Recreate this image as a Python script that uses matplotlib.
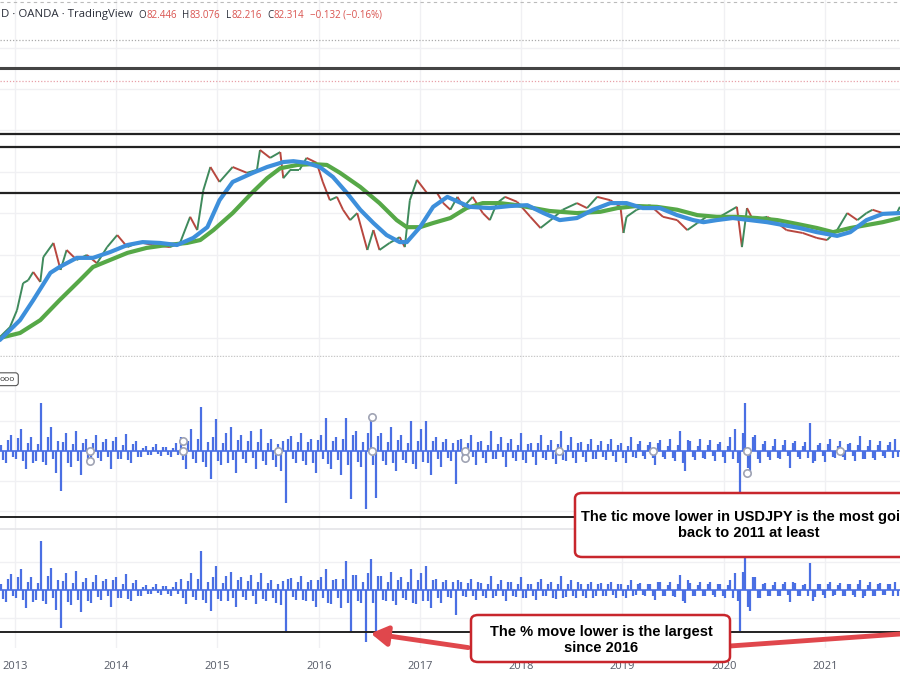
import numpy as np
import matplotlib
matplotlib.use("Agg")
import matplotlib.pyplot as plt
from matplotlib.collections import LineCollection
from matplotlib.patches import FancyBboxPatch, FancyArrowPatch
from matplotlib.lines import Line2D

# ---- USDJPY daily closes (year, price) ----
close_t = [2012.85, 2012.95, 2013.02, 2013.08, 2013.13, 2013.18, 2013.25, 2013.28, 2013.38, 2013.45,
           2013.51, 2013.61, 2013.71, 2013.81, 2013.91, 2014.01, 2014.11, 2014.23, 2014.36, 2014.53,
           2014.63, 2014.73, 2014.80, 2014.86, 2014.93, 2015.02, 2015.15, 2015.29, 2015.39, 2015.42,
           2015.52, 2015.62, 2015.65, 2015.72, 2015.81, 2015.88, 2015.98, 2016.04, 2016.11, 2016.18,
           2016.24, 2016.31, 2016.38, 2016.48, 2016.54, 2016.60, 2016.70, 2016.80, 2016.85, 2016.90,
           2016.97, 2017.07, 2017.17, 2017.23, 2017.30, 2017.37, 2017.43, 2017.52, 2017.62, 2017.69,
           2017.76, 2017.84, 2017.96, 2018.09, 2018.19, 2018.29, 2018.41, 2018.55, 2018.65, 2018.75,
           2018.88, 2018.98, 2019.01, 2019.04, 2019.14, 2019.27, 2019.40, 2019.54, 2019.64, 2019.74,
           2019.83, 2019.96, 2020.13, 2020.18, 2020.23, 2020.29, 2020.43, 2020.53, 2020.62, 2020.78,
           2020.92, 2021.02, 2021.12, 2021.22, 2021.32, 2021.41, 2021.47, 2021.57, 2021.71, 2021.74]
close_p = [80.2, 82.6, 86.7, 93.2, 93.9, 95.9, 93.5, 99.5, 102.9, 96.4,
           101.2, 98.8, 100.0, 98.0, 101.9, 104.8, 101.9, 103.1, 102.4, 101.9,
           102.9, 109.2, 106.0, 115.6, 121.2, 117.6, 121.2, 119.8, 120.5, 125.3,
           123.4, 124.8, 118.5, 120.5, 120.5, 123.4, 122.2, 117.6, 113.2, 114.0,
           110.9, 108.4, 110.1, 101.2, 106.0, 101.2, 102.9, 104.3, 101.9, 113.2,
           118.1, 114.9, 114.9, 112.5, 110.9, 114.0, 111.6, 114.0, 110.1, 108.4,
           112.5, 114.0, 112.8, 109.2, 106.5, 108.4, 110.9, 112.5, 111.3, 114.0,
           113.2, 111.6, 105.3, 109.2, 110.9, 112.0, 109.2, 108.4, 106.0, 107.7,
           109.2, 109.2, 111.6, 101.9, 111.3, 108.4, 109.2, 107.7, 106.0, 105.3,
           104.1, 103.6, 106.0, 110.1, 108.4, 110.1, 110.9, 110.1, 110.1, 111.6]

# ---- moving averages (blue = fast, green = slow) ----
ma_fast_t = [2012.85, 2013.05, 2013.18, 2013.35, 2013.44, 2013.61, 2013.77, 2013.94, 2014.11, 2014.26,
             2014.43, 2014.60, 2014.76, 2014.90, 2015.02, 2015.15, 2015.35, 2015.49, 2015.65, 2015.75,
             2015.88, 2016.01, 2016.14, 2016.28, 2016.41, 2016.54, 2016.67, 2016.80, 2016.87, 2017.00,
             2017.13, 2017.27, 2017.49, 2017.69, 2017.89, 2018.06, 2018.22, 2018.38, 2018.55, 2018.71,
             2018.88, 2019.04, 2019.20, 2019.37, 2019.54, 2019.70, 2019.80, 2019.93, 2020.09, 2020.26,
             2020.43, 2020.59, 2020.75, 2020.92, 2021.12, 2021.25, 2021.41, 2021.57, 2021.74]
ma_fast = [79.5, 84.3, 89.1, 95.7, 97.1, 99.3, 99.3, 100.7, 102.4, 103.1,
           102.9, 102.4, 104.1, 106.7, 113.2, 117.6, 119.8, 121.2, 122.4, 122.6,
           122.2, 121.2, 118.8, 114.9, 110.9, 107.7, 104.8, 103.1, 103.1, 106.7,
           111.6, 114.0, 111.6, 111.3, 111.8, 112.0, 110.1, 108.4, 108.9, 110.9,
           112.5, 112.5, 111.3, 111.3, 109.6, 108.4, 107.9, 108.4, 108.9, 108.4,
           107.9, 107.2, 106.5, 105.5, 104.6, 105.5, 108.4, 109.9, 110.1]
ma_slow_t = [2012.85, 2013.05, 2013.25, 2013.44, 2013.64, 2013.77, 2013.94, 2014.11, 2014.30, 2014.50,
             2014.70, 2014.83, 2014.96, 2015.15, 2015.35, 2015.49, 2015.62, 2015.79, 2015.94, 2016.08,
             2016.21, 2016.41, 2016.60, 2016.77, 2016.87, 2017.00, 2017.13, 2017.30, 2017.46, 2017.62,
             2017.79, 2017.96, 2018.12, 2018.28, 2018.55, 2018.78, 2018.95, 2019.14, 2019.34, 2019.54,
             2019.74, 2019.93, 2020.13, 2020.33, 2020.53, 2020.72, 2020.92, 2021.08, 2021.25, 2021.41,
             2021.57, 2021.74]
ma_slow = [80.0, 81.2, 84.3, 89.1, 93.9, 97.1, 98.8, 100.5, 101.7, 102.4,
           102.9, 103.6, 106.0, 110.1, 115.2, 118.5, 120.9, 121.7, 121.9, 121.7,
           119.8, 116.4, 112.5, 108.4, 106.7, 106.7, 107.7, 108.9, 111.3, 112.5,
           112.5, 112.0, 111.3, 110.6, 110.1, 110.4, 111.3, 111.8, 111.6, 110.9,
           109.6, 109.2, 109.2, 108.9, 108.4, 107.5, 106.5, 105.5, 106.5, 107.2,
           107.9, 108.9]

# horizontal levels drawn on the price pane
levels_black = [129.2, 126.0, 114.9]
level_dark = 145.1
level_pink = 141.9
level_dotted = 151.8

# ---- daily change in pips (middle pane): main swings + in-between days ----
tick_move = [30, -60, 80, -40, 110, -90, 70, -50, 240, -70, 120, -110, -200, 90, -80, 100, -120, 60,
             -70, 80, -50, 60, -90, 70, -40, 85, -60, 50,
             -30, 25, -20, 35, -25, 20, -30, 40,
             70, -90, 110, -60, 220, -80, -140, 160, -70, 90, 120, -110, 80, -60, 100, -90, 110, -70,
             60, -80, -100, -260, 75, -60,
             90, -70, 60, -110, 80, 165, -90, 70, -120, 165, -240, 100, -80, -290, 160, -235, 90, -70,
             120, -100, 80, -60, 150, -90, 110, 150, -120, 70, -80, 60, -50, -165,
             60, -50, 80, -70, 50, -60, 100, -40, 70, -80, 60, -50, 90, -60, 40, -70, 80, -45, 55, -65,
             100, -50, 70, -60, 45, -55, 60, -40,
             50, -45, 60, -55, 40, -60, 70, -35, 50, -40, 45, -70, 55, -40, 60, -50, 100, -100, 50, -45,
             60, -40, 55, -50, 45, -60, 70, 110,
             -205, 240, -125, 80, -60, 50, -45, 60, -40, 55, -85, 50, -40, 45, 140, -50, 40, -55, 60, -35,
             50, -45, 40, -50, 75, -40, 55, -45, 50, -35, 45, 60]
tick_mid = [-45, 55, -30, 65, -50, 40, -60, 35, -55, 70, -40, 50, 45, -60, 35, -50, 40, -55,
            40, -35, 45, -30, 50, -40, 30, -45, 35, -30,
            15, -20, 18, -15, 20, -18, 15, -20,
            -45, 50, -40, 60, -55, 45, 70, -50, 40, -60, -45, 55, -40, 50, -35, 45, -50, 40, -45, 35,
            50, 60, -40, 45,
            -50, 45, -60, 55, -40, -65, 50, -45, 60, -70, 80, -55, 45, 90, -70, 75, -50, 45, -60, 55,
            -45, 40, -65, 50, -55, -60, 50, -40, 45, -35, 40, 55,
            -35, 40, -30, 45, -35, 30, -40, 35, -30, 40, -35, 30, -45, 35, -30, 40, -35, 30, -40, 35,
            -45, 30, -35, 40, -30, 35, -40, 30,
            -30, 35, -25, 30, -35, 25, -30, 35, -25, 30, -35, 40, -30, 25, -35, 30, -60, 55, -30, 25,
            -35, 30, -25, 35, -30, 25, -40, -60,
            90, -85, 70, -40, 35, -30, 25, -35, 30, -25, 40, -30, 25, -35, -60, 30, -25, 35, -30, 25,
            -30, 35, -25, 30, -40, 25, -35, 30, -25, 30, -35, -30]
tick_level = -330

# ---- daily change in percent (bottom pane) ----
pct_move = [0.45, -0.85, 1.15, -0.6, 1.5, -1.25, 0.95, -0.7, 3.5, -1.0, 1.6, -1.45, -2.7, 1.2, -1.1, 1.35,
            -1.6, 0.85,
            -0.95, 1.1, -0.7, 0.8, -1.2, 0.95, -0.55, 1.15, -0.8, 0.7,
            -0.4, 0.35, -0.3, 0.45, -0.35, 0.3, -0.4, 0.55,
            0.8, -1.0, 1.2, -0.7, 2.8, -0.9, -1.5, 1.7, -0.8, 1.0, 1.3, -1.2, 0.9, -0.7, 1.1, -1.0, 1.2,
            -0.8, 0.7, -0.9, -1.1, -3.0, 0.85, -0.7,
            1.0, -0.8, 0.7, -1.2, 0.9, 1.5, -1.0, 0.8, -1.3, 2.1, -3.0, 1.1, -0.9, -3.7, 2.2, -2.9, 1.0,
            -0.8, 1.3, -1.1, 0.9, -0.7, 1.5, -1.0, 1.2, 1.7, -1.3, 0.8, -0.9, 0.7, -0.6, -1.8,
            0.6, -0.5, 0.8, -0.7, 0.5, -0.6, 1.0, -0.4, 0.7, -0.8, 0.6, -0.5, 0.9, -0.6, 0.4, -0.7, 0.8,
            -0.45, 0.55, -0.65, 1.0, -0.5, 0.7, -0.6, 0.45, -0.55, 0.6, -0.4,
            0.5, -0.45, 0.6, -0.55, 0.4, -0.6, 0.7, -0.35, 0.5, -0.4, 0.45, -0.7, 0.55, -0.4, 0.6, -0.5,
            1.1, -0.95, 0.5, -0.45, 0.6, -0.4, 0.55, -0.5, 0.45, -0.6, 0.7, 1.2,
            -2.9, 2.3, -1.5, 0.9, -0.6, 0.5, -0.45, 0.6, -0.4, 0.55, -0.85, 0.5, -0.4, 0.45, 1.9, -0.5,
            0.4, -0.55, 0.6, -0.35, 0.5, -0.45, 0.4, -0.5, 0.75, -0.4, 0.55, -0.45, 0.5, -0.35, 0.45, 0.6]
pct_mid = [-0.65, 0.8, -0.45, 0.95, -0.7, 0.55, -0.85, 0.5, -0.8, 1.0, -0.55, 0.7, 0.65, -0.85, 0.5, -0.7,
           0.55, -0.8,
           0.55, -0.5, 0.65, -0.45, 0.7, -0.55, 0.45, -0.65, 0.5, -0.45,
           0.2, -0.3, 0.25, -0.2, 0.3, -0.25, 0.2, -0.3,
           -0.6, 0.65, -0.5, 0.8, -0.7, 0.6, 0.9, -0.65, 0.5, -0.8, -0.6, 0.7, -0.5, 0.65, -0.45, 0.6,
           -0.65, 0.5, -0.6, 0.45, 0.65, 0.8, -0.5, 0.6,
           -0.7, 0.6, -0.8, 0.75, -0.55, -0.9, 0.7, -0.6, 0.8, -0.95, 1.1, -0.75, 0.6, 1.2, -0.95, 1.0,
           -0.7, 0.6, -0.8, 0.75, -0.6, 0.55, -0.9, 0.7, -0.75, -0.8, 0.7, -0.55, 0.6, -0.5, 0.55, 0.75,
           -0.45, 0.5, -0.4, 0.6, -0.45, 0.4, -0.55, 0.45, -0.4, 0.55, -0.45, 0.4, -0.6, 0.45, -0.4, 0.55,
           -0.45, 0.4, -0.55, 0.45, -0.6, 0.4, -0.45, 0.55, -0.4, 0.45, -0.55, 0.4,
           -0.4, 0.45, -0.35, 0.4, -0.45, 0.35, -0.4, 0.45, -0.35, 0.4, -0.45, 0.55, -0.4, 0.35, -0.45, 0.4,
           -0.8, 0.75, -0.4, 0.35, -0.45, 0.4, -0.35, 0.45, -0.4, 0.35, -0.55, -0.8,
           1.3, -1.2, 0.95, -0.55, 0.45, -0.4, 0.35, -0.45, 0.4, -0.35, 0.55, -0.4, 0.35, -0.45, -0.8, 0.4,
           -0.35, 0.45, -0.4, 0.35, -0.4, 0.45, -0.35, 0.4, -0.55, 0.35, -0.45, 0.4, -0.35, 0.4, -0.45, -0.4]
pct_level = -3.0

# event markers on the middle pane
event_t = [2013.74, 2013.74, 2014.66, 2014.66, 2015.60, 2016.53, 2016.53, 2017.44, 2017.44,
           2018.37, 2019.30, 2020.23, 2020.23, 2021.15]
event_v = [0, -50, 50, 0, 0, 170, 0, 0, -35, 0, 0, 0, -110, 0]

years = list(range(2013, 2022))
header_name = "D · OANDA · TradingView"
header_ohlc = [("O", "82.446"), ("H", "83.076"), ("L", "82.216"), ("C", "82.314")]
header_chg = "−0.132 (−0.16%)"
note_tic = "The tic move lower in USDJPY is the most going\nback to 2011 at least"
note_pct = "The % move lower is the largest\nsince 2016"

# ---------------------------------------------------------------
W, H = 900, 676
plt.rcParams["font.family"] = ["Open Sans", "DejaVu Sans"]
fig = plt.figure(figsize=(9, 6.76), dpi=100)
fig.patch.set_facecolor("white")

def fy(y):  # pixel row -> figure fraction
    return 1 - y / H

xlim = (2012.852, 2021.741)
grid_c = "#f0f0f3"
blue = "#4a6fe3"

ax1 = fig.add_axes([0, fy(357), 1, 357 / H])
ax2 = fig.add_axes([0, fy(528), 1, 171 / H])
ax3 = fig.add_axes([0, fy(648), 1, 120 / H])

for ax in (ax1, ax2, ax3):
    ax.set_xlim(*xlim)
    for s in ax.spines.values():
        s.set_visible(False)
    ax.tick_params(left=False, right=False, bottom=False, top=False,
                   labelleft=False, labelbottom=False)
    for yr in years:
        ax.axvline(yr, color=grid_c, lw=1, zorder=0)

# ---- price pane ----
ax1.set_ylim(75.41, 161.45)
for lv in range(80, 160, 10):
    ax1.axhline(lv, color=grid_c, lw=1, zorder=0)

pts = np.column_stack([close_t, close_p])
segs = np.stack([pts[:-1], pts[1:]], axis=1)
seg_cols = ["#3f8a5c" if b >= a else "#b8473f" for a, b in zip(close_p[:-1], close_p[1:])]
ax1.add_collection(LineCollection(segs, colors=seg_cols, linewidths=1.4, zorder=3))

ax1.plot(ma_slow_t, ma_slow, color="#56a847", lw=3, zorder=4, solid_capstyle="round")
ax1.plot(ma_fast_t, ma_fast, color="#3d8fdb", lw=3, zorder=5, solid_capstyle="round")

for lv in levels_black:
    ax1.axhline(lv, color="#222222", lw=1.6, zorder=6)
ax1.axhline(level_dark, color="#444444", lw=2.2, zorder=6)
ax1.axhline(level_pink, color="#e8a0a8", lw=0.9, ls=(0, (1, 1.5)), zorder=6)
ax1.axhline(level_dotted, color="#aaaaaa", lw=0.9, ls=(0, (1, 1.5)), zorder=6)
ax1.axhline(161.0, color="#bbbbbb", lw=0.8, ls=(0, (3, 3)), zorder=6)
ax1.axhline(75.6, color="#c8c8c8", lw=1.0, ls=(0, (1, 1)), zorder=6)

# interleave the swing days with the in-between days
tick_all = np.column_stack([tick_move, tick_mid]).ravel()
pct_all = np.column_stack([pct_move, pct_mid]).ravel()
dates = np.linspace(2012.86, 2021.72, len(tick_all))

# ---- tick change pane ----
ax2.set_ylim(-385, 470)
for lv in (-300, -150, 150, 300):
    ax2.axhline(lv, color=grid_c, lw=1, zorder=0)
ax2.axhline(0, color=blue, lw=1.2, zorder=2)
ax2.vlines(dates, 0, tick_all, color=blue, lw=1.6, zorder=3)
ax2.axhline(tick_level, color="#222222", lw=1.4, zorder=4)
ax2.scatter(event_t, event_v, s=28, facecolor="white", edgecolor="#a0a4b4", lw=1.2, zorder=5)
ax2.text(0.0, 0.87, "ooo", transform=ax2.transAxes, fontsize=6, color="#333333",
         ha="left", va="center",
         bbox=dict(boxstyle="round,pad=0.35", fc="white", ec="#555555", lw=0.8))

# ---- percent change pane ----
ax3.set_ylim(-4.14, 4.43)
for lv in (-2, 2):
    ax3.axhline(lv, color=grid_c, lw=1, zorder=0)
ax3.axhline(0, color=blue, lw=1.2, zorder=2)
ax3.vlines(dates, 0, pct_all, color=blue, lw=1.6, zorder=3)
ax3.axhline(pct_level, color="#222222", lw=1.4, zorder=4)
ax3.axhline(4.35, color="#e4e4e8", lw=1.2, zorder=1)

ax3.set_xticks(years)
ax3.set_xticklabels([str(y) for y in years])
ax3.tick_params(labelbottom=True, labelsize=8, labelcolor="#555a66", pad=6)

# ---- header ----
fig.text(1 / W, fy(14), header_name, fontsize=8.2, color="#2a2e39", va="center", ha="left")
prev = fig.text(138 / W, fy(15), "", fontsize=7, va="center")
for i, (k, v) in enumerate(header_ohlc):
    gap = 0 if i == 0 else 4
    t = ax1.annotate(k, xy=(1, 0.5), xycoords=prev, xytext=(gap, 0), textcoords="offset points",
                     fontsize=7, color="#2a2e39", va="center", ha="left")
    prev = ax1.annotate(v, xy=(1, 0.5), xycoords=t, xytext=(0.3, 0), textcoords="offset points",
                        fontsize=7, color="#d9534f", va="center", ha="left")
ax1.annotate(header_chg, xy=(1, 0.5), xycoords=prev, xytext=(4, 0), textcoords="offset points",
             fontsize=7, color="#d9534f", va="center", ha="left")

# ---- annotations ----
red = "#c8262c"
fig.patches.append(FancyBboxPatch((575 / W, fy(557)), 350 / W, 64 / H,
                                  boxstyle="round,pad=0,rounding_size=0.008",
                                  transform=fig.transFigure, fc="white", ec=red, lw=1.8, zorder=10))
fig.text(749 / W, fy(525), note_tic, fontsize=10.5, fontweight="bold", family="Liberation Sans",
         ha="center", va="center", linespacing=1.2, zorder=11)

fig.patches.append(FancyBboxPatch((471 / W, fy(662)), 259 / W, 47 / H,
                                  boxstyle="round,pad=0,rounding_size=0.008",
                                  transform=fig.transFigure, fc="white", ec=red, lw=1.8, zorder=10))
fig.text(601 / W, fy(640), note_pct, fontsize=10.5, fontweight="bold", family="Liberation Sans",
         ha="center", va="center", linespacing=1.2, zorder=11)

arrow_c = "#e0474c"
fig.patches.append(FancyArrowPatch((471 / W, fy(648)), (368 / W, fy(633)), transform=fig.transFigure,
                                   arrowstyle="-|>,head_length=10,head_width=6", color=arrow_c,
                                   lw=3.5, zorder=9))
fig.lines.append(Line2D([730 / W, 1.0], [fy(646), fy(634)], transform=fig.transFigure,
                        color=arrow_c, lw=3.5, zorder=9))

fig.savefig("out.png", dpi=100, facecolor="white")
